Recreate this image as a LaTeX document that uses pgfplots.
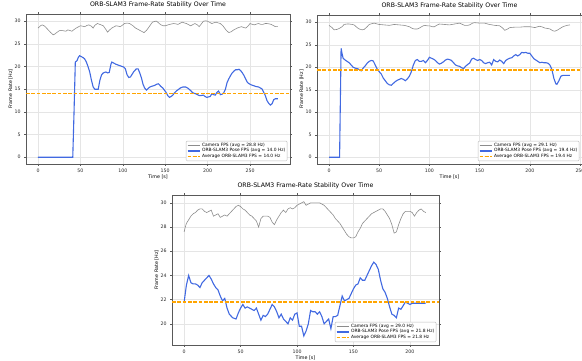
\documentclass[border=0pt]{standalone}
\usepackage{pgfplots}
\pgfplotsset{compat=1.18}
\usepackage{fontspec}
\setmainfont{DejaVu Sans}
\definecolor{cam}{RGB}{140,140,140}
\definecolor{pose}{RGB}{65,105,225}
\definecolor{avgc}{RGB}{255,165,0}
\pgfplotsset{
  fpsstyle/.style={
    scale only axis,
    anchor=south west,
    axis line style={black!65, line width=0.5pt},
    tick align=outside,
    major tick length=1.8pt,
    tick style={black!65, line width=0.4pt},
    grid=major,
    grid style={black!10, line width=0.3pt},
    /pgf/number format/assume math mode=true,
    ticklabel style={font=\fontsize{4.7}{5.5}\selectfont, text=black!85},
    title style={font=\fontsize{6.2}{7.4}\selectfont, yshift=-3.8pt},
    label style={font=\fontsize{4.8}{5.8}\selectfont},
    xlabel={Time [s]},
    ylabel={Frame Rate [Hz]},
    xlabel style={yshift=4.5pt},
    ylabel style={yshift=-5pt},
    title={ORB-SLAM3 Frame-Rate Stability Over Time},
    legend style={font=\fontsize{4.4}{5.1}\selectfont, at={(0.99,0.02)}, anchor=south east,
      draw=black!25, rounded corners=1pt, inner sep=0.8pt, row sep=-1.2pt,
      nodes={inner sep=1pt}},
    legend cell align=left,
    legend image post style={scale=0.75},
    xtick={0,50,100,150,200,250},
    avgline/.style={avgc, line width=1.4pt, dash pattern=on 3.7pt off 1.6pt},
    camline/.style={cam, line width=0.6pt},
    poseline/.style={pose, line width=1.1pt},
  }
}
\begin{document}
\begin{tikzpicture}
\useasboundingbox (0pt,0pt) rectangle (582pt,360pt);
% ---------------- top-left ----------------
\begin{axis}[fpsstyle, at={(26pt,196pt)}, width=264pt, height=150pt,
  xmin=-14.15, xmax=297.15, ymin=-1.5, ymax=31.6, ytick={0,5,10,15,20,25,30}]
\addplot[camline] coordinates {
(0,28.5)(3,29.0)(5,29.2)(8,28.9)(10,28.5)(13,27.9)(15,27.5)(18,27.0)(20,27.2)(22,27.5)(25,27.9)(27,28.0)(30,27.9)(33,27.8)(35,28.1)(37,28.0)(40,27.8)(42,28.1)(45,28.5)(48,28.8)(50,29.0)(53,28.9)(55,28.8)(58,29.1)(60,29.2)(63,28.9)(65,28.5)(67,29.1)(70,29.5)(73,29.3)(77,29.0)(80,28.2)(82,27.6)(84,28.0)(87,28.5)(90,28.8)(92,29.0)(95,28.9)(97,28.8)(100,29.2)(102,29.5)(105,29.6)(108,29.5)(112,29.0)(115,28.5)(118,28.2)(120,28.0)(123,27.7)(125,27.5)(128,28.0)(130,28.5)(133,29.3)(135,29.8)(138,30.0)(140,30.0)(143,29.5)(145,29.2)(148,29.0)(150,29.0)(155,29.3)(160,29.5)(163,29.4)(165,29.3)(168,29.6)(170,29.8)(173,29.6)(175,29.5)(178,29.2)(180,29.0)(183,29.3)(185,29.5)(188,29.2)(190,28.8)(193,29.5)(195,30.0)(198,30.1)(200,30.0)(203,29.7)(205,29.5)(208,29.7)(210,29.8)(213,29.6)(215,29.5)(218,29.0)(220,28.5)(222,28.0)(225,27.5)(228,27.7)(230,28.0)(233,28.3)(235,28.5)(238,28.7)(240,28.8)(243,28.6)(245,28.5)(248,29.0)(250,29.5)(253,29.3)(255,29.2)(258,29.4)(260,29.5)(263,29.3)(265,29.3)(268,29.5)(270,29.5)(273,29.4)(275,29.3)(278,29.0)(280,28.8)(283,28.8)};
\addlegendentry{Camera FPS (avg = 28.8 Hz)}
\addplot[poseline] coordinates {
(0,0)(10,0)(20,0)(30,0)(40,0)(41,0)(42.5,10)(44,21.0)(46,21.3)(47.5,22.0)(49,22.4)(51,22.2)(53,22.0)(55,21.7)(57,21.0)(59,20.0)(61,18.8)(63,17.0)(65,15.5)(67,15.0)(69,15.0)(71,15.0)(73,17.0)(75,18.2)(77,18.6)(80,18.8)(82,18.6)(84,18.7)(86,20.5)(87,21.0)(89,20.8)(92,20.5)(95,20.3)(98,20.1)(101,19.9)(103,19.5)(105,18.2)(107,17.6)(109,17.7)(111,18.3)(113,18.9)(116,19.5)(118,19.5)(120,18.6)(122,17.5)(124,16.0)(126,15.2)(128,14.8)(130,15.2)(132,15.5)(135,15.7)(137,15.8)(140,16.1)(142,16.2)(145,15.6)(147,15.3)(149,14.8)(151,14.3)(153,13.6)(155,13.2)(157,13.4)(159,13.7)(161,14.2)(163,14.6)(166,15.0)(168,15.3)(171,15.5)(174,15.5)(177,15.2)(180,14.7)(182,14.3)(184,14.1)(186,14.0)(188,13.8)(190,13.6)(192,13.6)(195,13.7)(197,13.4)(199,13.2)(201,13.3)(203,13.4)(205,14.0)(207,13.8)(209,13.7)(211,14.3)(213,14.6)(215,13.8)(217,13.9)(219,14.2)(221,15.0)(223,16.5)(225,17.3)(227,18.0)(229,18.6)(231,19.0)(233,19.3)(235,19.3)(237,19.4)(239,19.1)(241,18.6)(243,18.0)(245,17.2)(247,16.5)(249,16.2)(251,16.0)(254,15.8)(257,15.6)(260,15.5)(262,15.3)(264,15.1)(266,14.4)(268,13.6)(270,12.5)(272,11.9)(274,11.5)(276,11.8)(278,12.7)(280,12.9)(283,12.9)};
\addlegendentry{ORB-SLAM3 Pose FPS (avg = 14.0 Hz)}
\addplot[avgline] coordinates {(-14.15,14.0)(297.15,14.0)};
\addlegendentry{Average ORB-SLAM3 FPS = 14.0 Hz}
\end{axis}
% ---------------- top-right ----------------
\begin{axis}[fpsstyle, at={(317pt,196pt)}, width=265pt, height=149pt,
  xmin=-12, xmax=252, ymin=-1.5, ymax=31.6, ytick={0,5,10,15,20,25,30}]
\addplot[camline] coordinates {
(0,29.3)(3,28.8)(5,28.3)(8,28.4)(10,28.6)(13,29.0)(15,29.5)(18,29.6)(20,29.6)(23,29.5)(25,29.4)(28,28.8)(30,28.5)(33,28.3)(35,28.4)(38,29.0)(40,29.5)(43,29.7)(45,29.8)(48,29.6)(50,29.5)(55,29.4)(60,29.3)(65,29.5)(70,29.4)(75,29.3)(80,29.0)(83,28.6)(85,28.5)(88,28.5)(90,28.7)(93,29.1)(95,29.3)(98,29.2)(100,29.2)(103,29.0)(105,29.0)(108,29.4)(110,29.6)(115,29.5)(120,29.4)(125,29.6)(130,29.8)(133,29.5)(135,29.3)(138,29.3)(140,29.4)(143,29.8)(145,29.9)(150,29.8)(155,29.8)(158,29.6)(160,29.5)(165,29.3)(170,29.2)(173,28.7)(175,28.2)(178,28.5)(180,28.8)(185,28.9)(190,28.9)(195,29.0)(200,29.0)(203,28.9)(205,28.8)(208,29.0)(210,29.1)(213,28.9)(215,28.7)(218,28.6)(220,28.5)(223,28.1)(225,28.0)(228,28.3)(230,28.6)(233,29.0)(237,29.3)(240,29.4)};
\addlegendentry{Camera FPS (avg = 29.1 Hz)}
\addplot[poseline] coordinates {
(0,0)(5,0)(10,0)(10.5,0)(12,24.2)(13,23.0)(14,22.0)(16,21.6)(18,21.3)(20,21.0)(22,20.5)(24,20.0)(26,19.8)(28,19.7)(30,19.5)(32,19.2)(34,19.8)(36,20.3)(38,20.9)(40,21.3)(42,21.5)(44,21.4)(46,20.5)(48,19.6)(50,19.0)(52,18.5)(54,17.6)(56,17.0)(58,16.4)(60,16.1)(62,16.0)(64,16.4)(66,16.8)(68,17.1)(70,17.3)(72,17.5)(74,17.3)(76,17.0)(78,17.4)(80,18.0)(82,19.0)(84,20.5)(86,21.5)(88,21.7)(90,21.3)(92,21.3)(94,21.5)(96,21.0)(98,21.5)(100,22.2)(102,22.0)(104,21.8)(106,21.5)(108,21.0)(110,20.7)(112,20.9)(114,21.2)(116,21.6)(118,21.8)(120,21.7)(122,21.5)(124,21.0)(126,20.5)(128,20.3)(130,20.2)(132,19.9)(134,19.7)(136,20.2)(138,20.6)(140,20.9)(142,21.8)(144,22.0)(146,21.7)(148,21.5)(150,21.7)(152,21.5)(154,21.0)(156,20.8)(158,21.0)(160,21.1)(162,20.5)(164,21.7)(166,21.3)(168,21.2)(170,21.6)(172,21.3)(174,20.8)(176,21.5)(178,21.8)(180,22.0)(182,22.1)(184,22.5)(186,22.8)(188,22.5)(190,22.8)(192,23.3)(194,23.2)(196,23.3)(198,23.1)(200,23.1)(202,22.5)(204,21.9)(206,21.6)(208,21.3)(210,21.0)(212,21.1)(214,21.0)(216,21.0)(218,20.9)(220,20.5)(222,19.5)(224,17.5)(226,16.3)(227,16.2)(229,17.0)(231,18.0)(233,18.2)(236,18.2)(240,18.2)};
\addlegendentry{ORB-SLAM3 Pose FPS (avg = 19.4 Hz)}
\addplot[avgline] coordinates {(-12,19.4)(252,19.4)};
\addlegendentry{Average ORB-SLAM3 FPS = 19.4 Hz}
\end{axis}
% ---------------- bottom ----------------
\begin{axis}[fpsstyle, at={(172pt,15pt)}, width=267pt, height=150pt,
  xmin=-10.75, xmax=225.75, ymin=18.25, ymax=30.65, ytick={20,22,24,26,28,30},
  xtick={0,50,100,150,200}]
\addplot[camline] coordinates {
(0,27.6)(1,28.0)(2,28.3)(4,28.6)(6,28.9)(8,29.1)(10,29.2)(12,29.4)(14,29.5)(16,29.5)(18,29.3)(20,29.2)(22,29.3)(24,29.4)(26,28.9)(28,29.0)(30,29.1)(32,28.8)(34,28.9)(36,29.0)(38,28.9)(40,29.1)(42,29.3)(44,29.5)(46,29.7)(48,29.8)(50,29.7)(52,29.5)(54,29.4)(56,29.2)(58,29.0)(60,28.9)(62,28.7)(64,28.5)(66,28.0)(68,28.7)(70,28.9)(72,28.9)(74,28.9)(76,28.8)(78,28.4)(80,28.2)(82,28.6)(84,28.9)(86,29.2)(88,29.4)(90,29.2)(92,29.5)(94,29.6)(96,29.5)(98,29.6)(100,29.8)(102,29.9)(104,30.0)(106,30.1)(108,29.8)(110,29.9)(112,30.0)(114,30.0)(116,30.0)(118,30.0)(120,30.0)(122,29.9)(124,29.8)(126,29.6)(128,29.4)(130,29.2)(132,29.0)(134,28.7)(136,28.5)(138,28.3)(140,28.0)(142,27.7)(144,27.4)(146,27.2)(148,27.1)(150,27.1)(152,27.2)(154,27.6)(156,27.9)(158,28.3)(160,28.5)(162,28.7)(164,28.9)(166,29.1)(168,29.2)(170,29.3)(172,29.4)(174,29.5)(176,29.5)(178,29.3)(180,29.0)(182,28.7)(184,28.2)(186,27.5)(188,27.6)(190,28.2)(192,28.7)(194,29.1)(196,29.3)(198,29.3)(200,29.3)(202,29.2)(204,28.9)(206,29.2)(208,29.4)(210,29.5)(212,29.3)(214,29.2)};
\addlegendentry{Camera FPS (avg = 29.0 Hz)}
\addplot[poseline] coordinates {
(0,21.8)(2,23.2)(4,24.0)(6,23.4)(8,23.3)(10,23.3)(12,23.2)(14,23.0)(16,23.4)(18,23.6)(20,23.8)(22,24.0)(24,23.7)(26,23.3)(28,23.0)(30,22.8)(32,22.3)(34,21.9)(36,22.1)(38,21.3)(40,20.8)(43,20.5)(46,20.4)(48,20.9)(50,21.3)(52,21.6)(54,21.3)(56,21.4)(58,21.3)(60,21.2)(62,21.1)(64,21.3)(66,20.8)(68,20.3)(70,20.7)(72,20.6)(74,20.8)(76,21.2)(78,21.6)(80,21.4)(82,21.0)(84,20.5)(86,20.8)(88,20.4)(90,20.2)(92,20.0)(94,20.5)(96,20.3)(98,20.8)(100,20.9)(102,19.8)(104,19.8)(106,19.0)(108,19.4)(110,20.0)(112,21.1)(114,21.0)(116,21.0)(118,20.8)(120,21.0)(122,20.6)(124,20.0)(126,20.2)(128,20.4)(130,19.6)(132,20.6)(134,20.6)(136,20.7)(138,21.5)(140,22.3)(142,21.9)(144,22.0)(146,22.1)(148,22.5)(150,22.9)(152,23.2)(154,23.3)(156,23.8)(158,23.6)(160,23.6)(162,24.0)(164,24.4)(166,24.8)(168,25.1)(170,24.9)(172,24.5)(174,23.6)(176,22.9)(178,22.6)(180,22.1)(182,21.4)(184,20.8)(186,20.7)(188,20.5)(190,21.3)(192,21.2)(194,21.5)(196,21.8)(198,21.7)(200,21.6)(202,21.7)(205,21.7)(210,21.7)(214,21.7)};
\addlegendentry{ORB-SLAM3 Pose FPS (avg = 21.8 Hz)}
\addplot[avgline] coordinates {(-10.75,21.8)(225.75,21.8)};
\addlegendentry{Average ORB-SLAM3 FPS = 21.8 Hz}
\end{axis}
\end{tikzpicture}
\end{document}
